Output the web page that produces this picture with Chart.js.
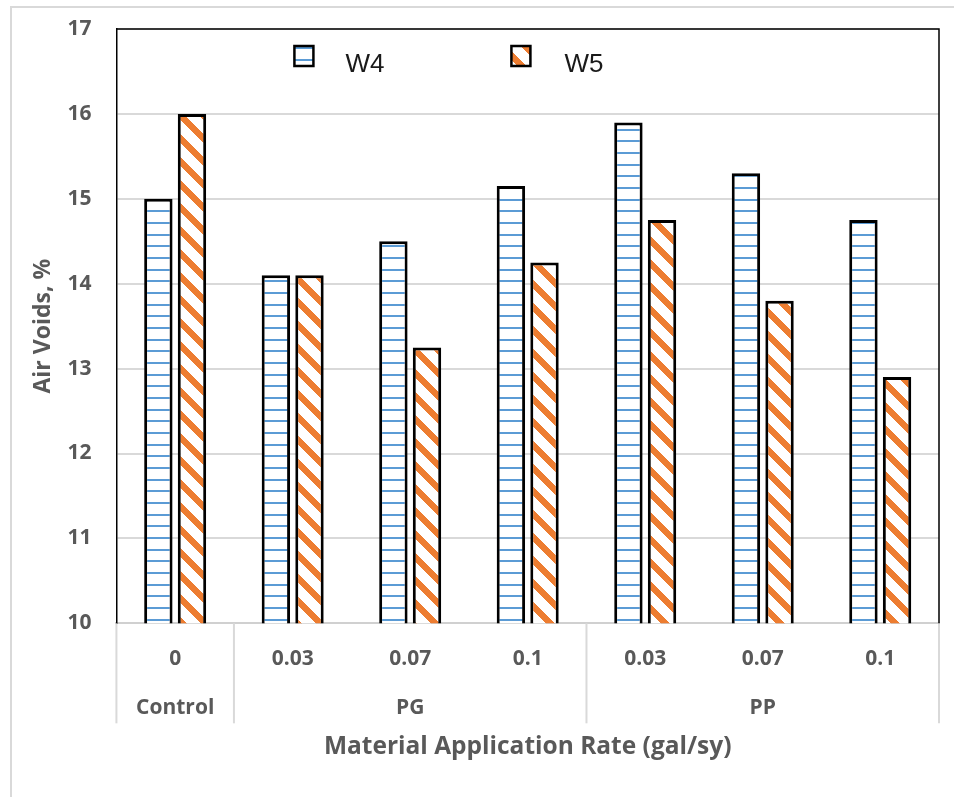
<!DOCTYPE html>
<html><head><meta charset="utf-8">
<script src="https://cdn.jsdelivr.net/npm/chart.js@4.4.0/dist/chart.umd.min.js"></script>
<style>
html,body{margin:0;padding:0;background:#fff;overflow:hidden}
#wrap{position:absolute;left:0;top:0;width:954px;height:797px}
</style></head>
<body><div id="wrap"><canvas id="c"></canvas></div>
<script>
// ---- data ----
const rateLabels = ['0', '0.03', '0.07', '0.1', '0.03', '0.07', '0.1'];
const groupNames = ['Control', 'PG', 'PP'];
const groupSizes = [1, 3, 3];
const seriesNames = ['W4', 'W5'];
const w4Values = [15.0, 14.1, 14.5, 15.15, 15.9, 15.3, 14.75];
const w5Values = [16.0, 14.1, 13.25, 14.25, 14.75, 13.8, 12.9];
const yMin = 10, yMax = 17, yStep = 1;
const yTitle = 'Air Voids, %';
const xTitle = 'Material Application Rate (gal/sy)';

// ---- build two-row labels & group boundaries ----
const labels = [];
const boundaries = [0];
let k = 0;
groupNames.forEach((g, gi) => {
  const mid = Math.floor(groupSizes[gi] / 2);
  for (let j = 0; j < groupSizes[gi]; j++) {
    labels.push([rateLabels[k], j === mid ? g : '']);
    k++;
  }
  boundaries.push(k);
});

// ---- patterns ----
function hPattern() {
  const c = document.createElement('canvas'); c.width = 8; c.height = 35;
  const g = c.getContext('2d');
  g.fillStyle = '#ffffff'; g.fillRect(0, 0, 8, 35);
  g.fillStyle = '#5B9BD5';
  [0, 12, 24].forEach(y => g.fillRect(0, y, 8, 2));
  return g.createPattern(c, 'repeat');
}
function dPattern() {
  const P = 23, t = 9;
  const c = document.createElement('canvas'); c.width = P; c.height = P;
  const g = c.getContext('2d');
  const img = g.createImageData(P, P);
  for (let y = 0; y < P; y++) for (let x = 0; x < P; x++) {
    const i = (y * P + x) * 4;
    const on = (((y - x) % P) + P) % P < t;
    img.data[i] = on ? 0xED : 255; img.data[i+1] = on ? 0x7D : 255; img.data[i+2] = on ? 0x31 : 255; img.data[i+3] = 255;
  }
  g.putImageData(img, 0, 0);
  return g.createPattern(c, 'repeat');
}
const fills = [hPattern(), dPattern()];

const FONT = '"Open Sans"';
const GREY = '#595959';

const framePlugin = {
  id: 'frame',
  beforeDraw(chart) {
    const ctx = chart.ctx;
    ctx.save();
    ctx.fillStyle = '#fff'; ctx.fillRect(0, 0, chart.width, chart.height);
    ctx.strokeStyle = '#d9d9d9'; ctx.lineWidth = 2;
    ctx.beginPath(); ctx.moveTo(11, chart.height); ctx.lineTo(11, 7); ctx.lineTo(chart.width, 7); ctx.stroke();
    ctx.restore();
  },
  beforeDatasetsDraw(chart) {
    const {ctx, chartArea: a} = chart;
    const xs = chart.scales.x;
    const n = xs.getLabels().length;
    ctx.save();
    ctx.strokeStyle = '#d9d9d9'; ctx.lineWidth = 2;
    boundaries.forEach(b => {
      let x;
      if (b === 0) x = a.left;
      else if (b === n) x = a.right;
      else x = (xs.getPixelForValue(b - 1) + xs.getPixelForValue(b)) / 2;
      ctx.beginPath(); ctx.moveTo(x, a.bottom); ctx.lineTo(x, a.bottom + 100); ctx.stroke();
    });
    ctx.strokeStyle = '#000'; ctx.lineWidth = 1.5;
    ctx.beginPath(); ctx.moveTo(a.left, a.top); ctx.lineTo(a.right, a.top); ctx.lineTo(a.right, a.bottom); ctx.stroke();
    ctx.restore();
  },
  afterDraw(chart) {
    const {ctx, chartArea: a} = chart;
    const pos = [{bx: 178, tx: 229}, {bx: 395, tx: 448}];
    ctx.save();
    chart.data.datasets.forEach((ds, i) => {
      const bx = a.left + pos[i].bx, by = a.top + 17;
      ctx.fillStyle = ds.backgroundColor;
      ctx.fillRect(bx, by, 19, 20);
      ctx.strokeStyle = '#000'; ctx.lineWidth = 2.5;
      ctx.strokeRect(bx, by, 19, 20);
      ctx.fillStyle = '#1a1a1a';
      ctx.font = '26px "Liberation Sans", Arial, sans-serif';
      ctx.textBaseline = 'alphabetic';
      ctx.fillText(ds.label, a.left + pos[i].tx, a.top + 43);
    });
    ctx.restore();
  }
};

new Chart(document.getElementById('c'), {
  type: 'bar',
  data: {
    labels: labels,
    datasets: [
      {label: seriesNames[0], data: w4Values, backgroundColor: fills[0], borderColor: '#000', borderWidth: 3, borderSkipped: false},
      {label: seriesNames[1], data: w5Values, backgroundColor: fills[1], borderColor: '#000', borderWidth: 3, borderSkipped: false}
    ]
  },
  options: {
    responsive: true, maintainAspectRatio: false, animation: false,
    devicePixelRatio: 1,
    datasets: {bar: {categoryPercentage: 0.572, barPercentage: 0.845}},
    layout: {padding: {left: 10, top: 29, right: 15, bottom: 35.5}},
    plugins: {legend: {display: false}, tooltip: {enabled: false}},
    scales: {
      x: {
        grid: {display: false},
        border: {display: true, color: '#d0d0d0', width: 2},
        ticks: {autoSkip: false, maxRotation: 0, padding: 3.5, color: GREY,
                font: {family: FONT, size: 21, weight: 700, lineHeight: 2.333}},
        title: {display: true, text: xTitle, color: GREY, padding: {top: -4.2, bottom: 0},
                font: {family: FONT, size: 24.5, weight: 700}}
      },
      y: {
        min: yMin, max: yMax,
        ticks: {stepSize: yStep, padding: 0, color: GREY, font: {family: FONT, size: 21, weight: 700}},
        grid: {color: '#d9d9d9', lineWidth: 2, drawTicks: true, tickLength: 25, tickColor: 'rgba(0,0,0,0)'},
        border: {display: true, color: '#000', width: 1.5},
        title: {display: true, text: yTitle, color: GREY, padding: {top: 19.4, bottom: 10.4},
                font: {family: FONT, size: 23, weight: 700}}
      }
    }
  },
  plugins: [framePlugin]
});
</script>
</body></html>
